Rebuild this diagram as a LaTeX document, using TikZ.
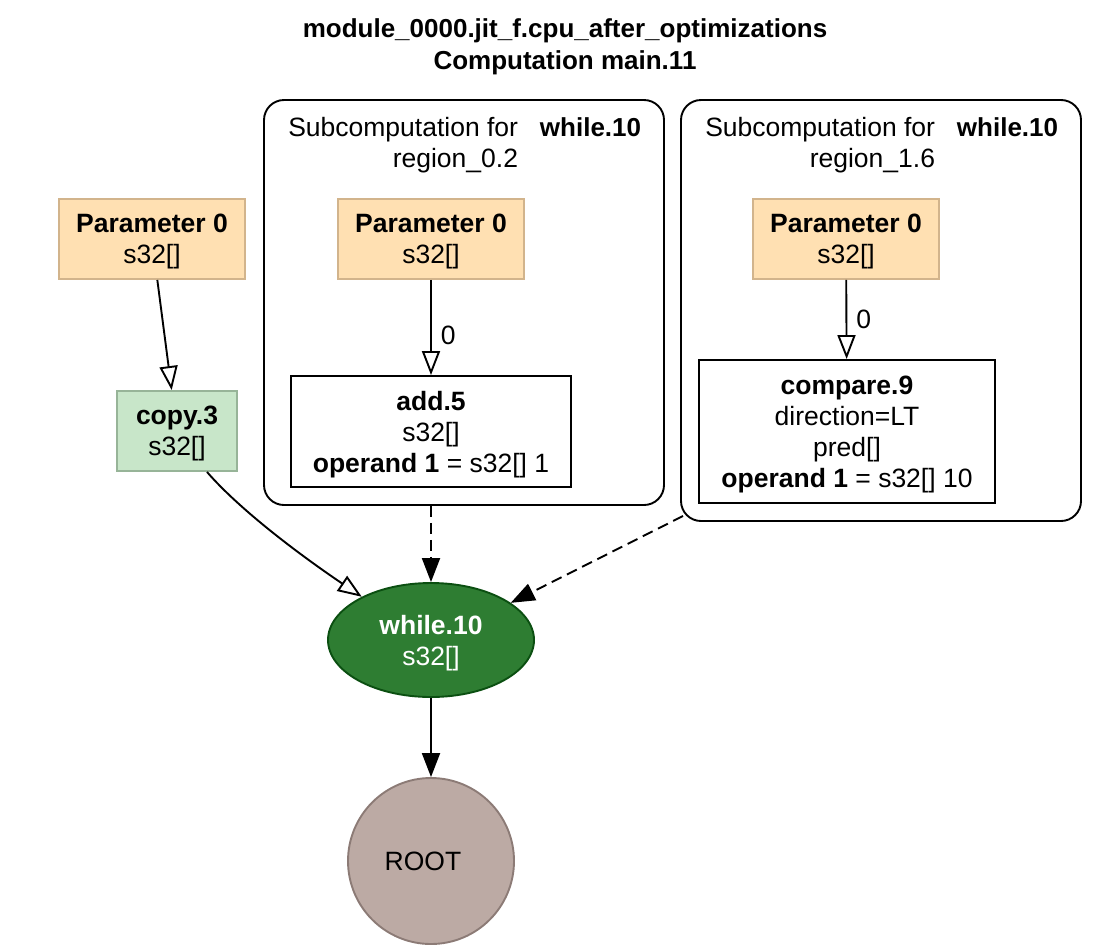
\documentclass[tikz,border=0pt]{standalone}
\usepackage{fontspec}
\setmainfont{Liberation Sans}
\usepackage{tikz}
\usetikzlibrary{arrows.meta}
\usetikzlibrary{shapes.geometric}
\tikzset{>={Triangle[length=24pt, width=18pt]}}

\definecolor{paramfill}{HTML}{FFE0B2}
\definecolor{paramline}{HTML}{D2B48C}
\definecolor{copyfill}{HTML}{C8E6C9}
\definecolor{copyline}{HTML}{97B498}
\definecolor{whilefill}{HTML}{2E7D32}
\definecolor{whileline}{HTML}{0B4F11}
\definecolor{rootfill}{HTML}{BCAAA4}
\definecolor{rootline}{HTML}{8C7B76}

\begin{document}
\begin{tikzpicture}[x=1pt, y=-1pt, line width=1.9pt,
    every node/.style={font=\fontsize{26.5}{31}\selectfont, align=center, inner sep=0pt},
    lowtext/.style={text depth=-4pt},
    param/.style={draw=paramline, fill=paramfill, lowtext, minimum width=186pt, minimum height=80pt},
    copybox/.style={draw=copyline, fill=copyfill, lowtext},
    instr/.style={draw=black, fill=white, lowtext},
    cluster/.style={draw=black, rounded corners=20pt, minimum width=400pt},
    whilenode/.style={ellipse, draw=whileline, fill=whilefill, text=white, lowtext,
        minimum width=206pt, minimum height=114pt},
    rootnode/.style={circle, draw=rootline, fill=rootfill, minimum size=166pt},
    opentip/.style={-{Triangle[open, length=24pt, width=18pt]}},
    dashedge/.style={->, dash pattern=on 11pt off 6pt}]

    \useasboundingbox (0,0) rectangle (1107,951);

    % Title
    \node[font=\fontsize{26}{32}\selectfont\bfseries] (title) at (565,47)
        {module\_0000.jit\_f.cpu\_after\_optimizations\\Computation main.11};

    % Subcomputation region_0.2
    \node[cluster, minimum height=405pt] (sub0) at (464,302.5) {};
    \node[anchor=base east] (sub0a) at (519,136) {Subcomputation for};
    \node[anchor=base east] (sub0b) at (519,167) {region\_0.2};
    \node[anchor=base west, font=\fontsize{26}{31}\selectfont\bfseries] (sub0c) at (539,136) {while.10};

    % Subcomputation region_1.6
    \node[cluster, minimum height=421pt] (sub1) at (881,310.5) {};
    \node[anchor=base east] (sub1a) at (936,136) {Subcomputation for};
    \node[anchor=base east] (sub1b) at (936,167) {region\_1.6};
    \node[anchor=base west, font=\fontsize{26}{31}\selectfont\bfseries] (sub1c) at (956,136) {while.10};

    % Parameters
    \node[param] (p0) at (152,239) {\textbf{Parameter 0}\\s32[]};
    \node[param] (p1) at (431,239) {\textbf{Parameter 0}\\s32[]};
    \node[param] (p2) at (846,239) {\textbf{Parameter 0}\\s32[]};

    % Instructions
    \node[copybox, minimum width=120pt, minimum height=80pt] (cp3) at (177,431) {\textbf{copy.3}\\s32[]};
    \node[instr, minimum width=280pt, minimum height=111pt] (add5) at (431,431.5)
        {\textbf{add.5}\\s32[]\\\textbf{operand 1} = s32[] 1};
    \node[instr, minimum width=296pt, minimum height=143pt] (cmp9) at (847,431.5)
        {\textbf{compare.9}\\direction=LT\\pred[]\\\textbf{operand 1} = s32[] 10};
    \node[whilenode] (w10) at (431,640) {\textbf{while.10}\\s32[]};
    \node[rootnode] (root) at (431,861) {ROOT\hspace*{16pt}};

    \coordinate (sub1out) at (683,516);

    % Edges
    \draw[opentip] (p0) -- (cp3);
    \draw[opentip] (p1) -- node[pos=0.58, right=9pt] (e1) {0} (add5);
    \draw[opentip] (p2) -- node[pos=0.5, right=9pt] (e2) {0} (cmp9);
    \draw[opentip] ([xshift=30pt]cp3.south) .. controls (240,510) and (300,555) .. (w10.148);
    \draw[dashedge] (w10 |- sub0.south) -- (w10);
    \draw[dashedge] (sub1out) -- (w10.25);
    \draw[->] (w10) -- (root);
\end{tikzpicture}
\end{document}
